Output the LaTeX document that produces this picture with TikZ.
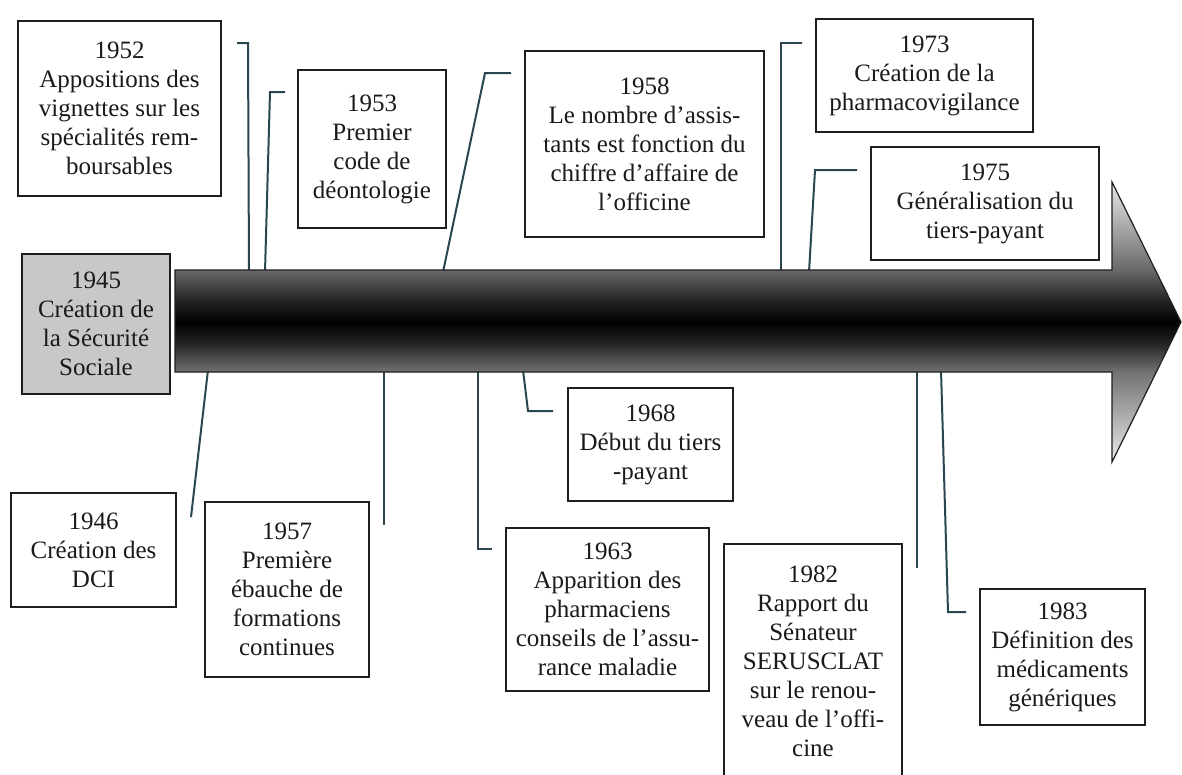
\documentclass[tikz,border=0pt]{standalone}
\usepackage{fontspec}
\setmainfont{Liberation Serif}
\definecolor{linkcol}{HTML}{2B4650}
\definecolor{boxline}{HTML}{1E1E1E}
\definecolor{boxgray}{HTML}{C8C8C8}
\definecolor{txt}{HTML}{1A1A1A}
\pgfdeclareverticalshading{arrowshade}{100bp}{color(0bp)=(black!8); color(25bp)=(black!8); color(41bp)=(black!55); color(46bp)=(black!85); color(50bp)=(black); color(54bp)=(black!85); color(59bp)=(black!60); color(75bp)=(black!8); color(100bp)=(black!8)}
\begin{document}
\begin{tikzpicture}[x=1pt,y=-1pt,
  event/.style={draw=boxline, line width=1.8pt, fill=white, inner sep=0pt, align=center,
    font=\fontsize{25}{29}\selectfont, text=txt},
  link/.style={draw=linkcol, line width=2pt}]
\clip (0,0) rectangle (1182,774);
\fill[white] (0,0) rectangle (1182,774);

% connectors (free ends as named coordinates)
\coordinate (a52) at (237,43);  \coordinate (b52) at (248,43);  \coordinate (c52) at (249,272);
\coordinate (a53) at (285,92);  \coordinate (b53) at (270,92);  \coordinate (c53) at (265,272);
\coordinate (a58) at (511,73);  \coordinate (b58) at (485,73);  \coordinate (c58) at (443,272);
\coordinate (a73) at (802,43);  \coordinate (b73) at (781,43);  \coordinate (c73) at (781,272);
\coordinate (a75) at (857,170); \coordinate (b75) at (815,170); \coordinate (c75) at (809,272);
\coordinate (c46) at (208,370); \coordinate (a46) at (191,517);
\coordinate (c57) at (384,370); \coordinate (a57) at (384,525);
\coordinate (c63) at (478,370); \coordinate (b63) at (478,549); \coordinate (a63) at (492,549);
\coordinate (c68) at (523,370); \coordinate (b68) at (528,411); \coordinate (a68) at (553,411);
\coordinate (c82) at (917,370); \coordinate (a82) at (917,568);
\coordinate (c83) at (941,370); \coordinate (b83) at (948,612); \coordinate (a83) at (966,612);

\draw[link] (a52) -- (b52) -- (c52);
\draw[link] (a53) -- (b53) -- (c53);
\draw[link] (a58) -- (b58) -- (c58);
\draw[link] (a73) -- (b73) -- (c73);
\draw[link] (a75) -- (b75) -- (c75);
\draw[link] (c46) -- (a46);
\draw[link] (c57) -- (a57);
\draw[link] (c63) -- (b63) -- (a63);
\draw[link] (c68) -- (b68) -- (a68);
\draw[link] (c82) -- (a82);
\draw[link] (c83) -- (b83) -- (a83);

% timeline arrow
\shade[shading=arrowshade, draw=boxline, line width=1.2pt]
  (175,270) -- (1112,270) -- (1112,182) -- (1181,322) -- (1112,462) -- (1112,372) -- (175,372) -- cycle;

% events
\node[event, fill=boxgray, minimum width=148, minimum height=140] (e1945) at (96,324)
  {1945\\Création de\\la Sécurité\\Sociale};
\node[event, minimum width=203, minimum height=175] (e1952) at (119.5,108.5)
  {1952\\Appositions des\\vignettes sur les\\spécialités rem-\\boursables};
\node[event, minimum width=148, minimum height=158] (e1953) at (372,149)
  {1953\\Premier\\code de\\déontologie};
\node[event, minimum width=239, minimum height=186] (e1958) at (644.5,144)
  {1958\\Le nombre d’assis-\\tants est fonction du\\chiffre d’affaire de\\l’officine};
\node[event, minimum width=217, minimum height=113] (e1973) at (924.5,75.5)
  {1973\\Création de la\\pharmacovigilance};
\node[event, minimum width=228, minimum height=113] (e1975) at (985,203.5)
  {1975\\Généralisation du\\tiers-payant};
\node[event, minimum width=165, minimum height=114] (e1946) at (93.5,550)
  {1946\\Création des\\DCI};
\node[event, minimum width=164, minimum height=175] (e1957) at (287,589.5)
  {1957\\Première\\ébauche de\\formations\\continues};
\node[event, minimum width=165, minimum height=113] (e1968) at (650.5,444.5)
  {1968\\Début du tiers\\-payant};
\node[event, minimum width=203, minimum height=163] (e1963) at (607.5,609.5)
  {1963\\Apparition des\\pharmaciens\\conseils de l’assu-\\rance maladie};
\node[event, minimum width=178, minimum height=234] (e1982) at (813,661)
  {1982\\Rapport du\\Sénateur\\SERUSCLAT\\sur le renou-\\veau de l’offi-\\cine};
\node[event, minimum width=165, minimum height=136] (e1983) at (1062.5,657)
  {1983\\Définition des\\médicaments\\génériques};
\end{tikzpicture}
\end{document}
